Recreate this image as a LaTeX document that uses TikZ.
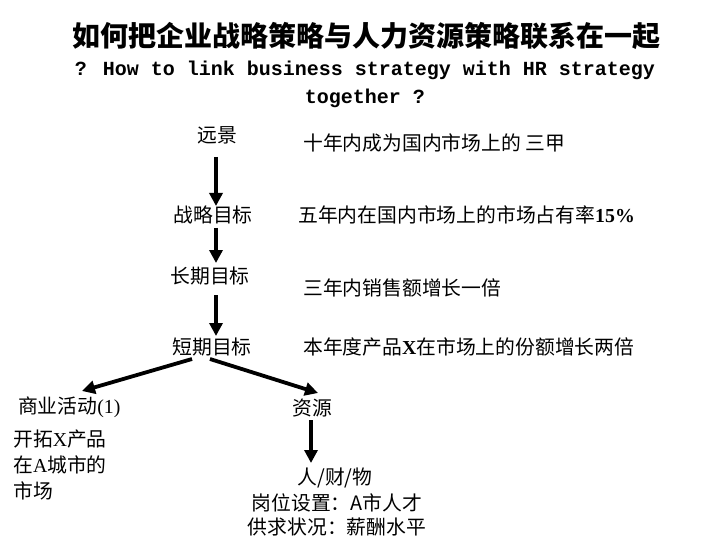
\documentclass[tikz,border=0pt]{standalone}
\usepackage{fontspec}
\setmainfont{Liberation Serif}
\newfontfamily\cjk{Noto Sans CJK SC}
\newfontfamily\mono{Liberation Mono}
\usetikzlibrary{arrows.meta}
\begin{document}
\begin{tikzpicture}[x=1pt,y=-1pt,
  lbl/.style={inner sep=0pt,font=\fontsize{19.8}{22}\selectfont\cjk},
  arr/.style={line width=3.8pt,-{Triangle[length=13pt,width=13pt]}}]
\useasboundingbox[fill=white] (0,0) rectangle (720,540);
\node[inner sep=0pt,font=\fontsize{28}{30}\selectfont\cjk\bfseries] (title) at (366,36) {如何把企业战略策略与人力资源策略联系在一起};
\node[inner sep=0pt,font=\fontsize{20}{24}\selectfont\mono\bfseries] (en1) at (365,70) {? How to link business strategy with HR strategy};
\node[inner sep=0pt,font=\fontsize{20}{24}\selectfont\mono\bfseries] (en2) at (365,98) {together ?};

\node[lbl] (vis) at (217,135) {远景};
\node[lbl,anchor=west] (visd) at (303,143) {十年内成为国内市场上的 三甲};
\node[lbl] (sg) at (213,215) {战略目标};
\node[lbl,anchor=west] (sgd) at (298,215) {五年内在国内市场上的市场占有率{\rmfamily\bfseries 15\%}};
\node[lbl] (lg) at (210,276) {长期目标};
\node[lbl,anchor=west] (lgd) at (303,288) {三年内销售额增长一倍};
\node[lbl] (shg) at (212,347) {短期目标};
\node[lbl,anchor=west] (shgd) at (303,347) {本年度产品{\rmfamily\bfseries X}在市场上的份额增长两倍};
\node[lbl,anchor=west] (biz) at (18,407) {商业活动{\rmfamily (1)}};
\node[lbl] (res) at (312,408) {资源};
\node[lbl,anchor=north west,align=left,font=\fontsize{19.8}{26}\selectfont\cjk] (bizd) at (13,430) {开拓{\rmfamily X}产品\\在{\rmfamily A}城市的\\市场};
\node[lbl] (r1) at (335,478) {人/财/物};
\node[lbl] (r2) at (337,503) {岗位设置：A市人才};
\node[lbl] (r3) at (337,527) {供求状况：薪酬水平};

\coordinate (a1s) at (216,157); \coordinate (a1e) at (216,206);
\coordinate (a2s) at (216,228); \coordinate (a2e) at (216,263);
\coordinate (a3s) at (216,295); \coordinate (a3e) at (216,336);
\coordinate (lbs) at (192,359); \coordinate (lbe) at (82,391);
\coordinate (rbs) at (210,359); \coordinate (rbe) at (318,393);
\coordinate (a4s) at (311,420); \coordinate (a4e) at (311,463);
\draw[arr] (a1s) -- (a1e);
\draw[arr] (a2s) -- (a2e);
\draw[arr] (a3s) -- (a3e);
\draw[arr] (lbs) -- (lbe);
\draw[arr] (rbs) -- (rbe);
\draw[arr] (a4s) -- (a4e);
\end{tikzpicture}
\end{document}
